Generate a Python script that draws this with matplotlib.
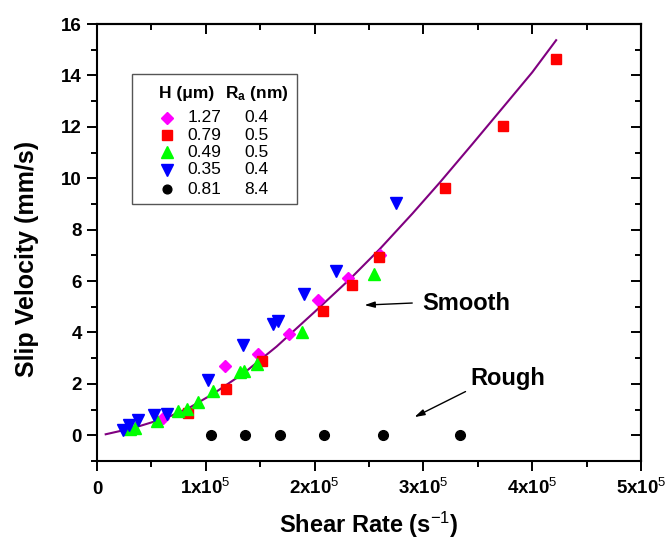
import numpy as np
import matplotlib
matplotlib.use("Agg")
import matplotlib.pyplot as plt
from matplotlib.ticker import MultipleLocator, FixedLocator
from matplotlib.patches import Rectangle

plt.rcParams["font.family"] = ["Liberation Sans", "DejaVu Sans"]
plt.rcParams["mathtext.fontset"] = "custom"
plt.rcParams["mathtext.rm"] = "Liberation Sans"
plt.rcParams["mathtext.it"] = "Liberation Sans:italic"
plt.rcParams["mathtext.bf"] = "Liberation Sans:bold"

# H = 1.27 um, Ra = 0.4 nm
x_127 = [0.61e5, 1.18e5, 1.48e5, 1.765e5, 2.03e5, 2.31e5, 2.60e5]
y_127 = [0.69, 2.68, 3.18, 3.96, 5.28, 6.12, 7.00]
# H = 0.79 um, Ra = 0.5 nm
x_079 = [0.84e5, 1.19e5, 1.52e5, 2.08e5, 2.34e5, 2.59e5, 3.20e5, 3.73e5, 4.22e5]
y_079 = [0.88, 1.79, 2.89, 4.85, 5.86, 6.94, 9.61, 12.03, 14.64]
# H = 0.49 um, Ra = 0.5 nm
x_049 = [0.30e5, 0.35e5, 0.555e5, 0.74e5, 0.83e5, 0.925e5, 1.07e5, 1.31e5, 1.35e5, 1.47e5, 1.88e5, 2.545e5]
y_049 = [0.26, 0.30, 0.56, 0.93, 1.01, 1.30, 1.71, 2.46, 2.50, 2.76, 4.00, 6.29]
# H = 0.35 um, Ra = 0.4 nm
x_035 = [0.24e5, 0.29e5, 0.38e5, 0.52e5, 0.64e5, 1.02e5, 1.345e5, 1.62e5, 1.66e5, 1.90e5, 2.20e5, 2.75e5]
y_035 = [0.19, 0.39, 0.61, 0.78, 0.84, 2.14, 3.50, 4.32, 4.45, 5.51, 6.38, 9.05]
# H = 0.81 um, Ra = 8.4 nm (rough)
x_081 = [1.045e5, 1.36e5, 1.683e5, 2.086e5, 2.625e5, 3.336e5]
y_081 = [0, 0, 0, 0, 0, 0]

# fitted curve for the smooth surfaces
x_fit = [0.08e5, 0.33e5, 0.64e5, 0.86e5, 1.07e5, 1.35e5, 1.65e5, 2.00e5,
         2.33e5, 2.60e5, 2.90e5, 3.15e5, 3.45e5, 3.75e5, 4.00e5, 4.22e5]
y_fit = [0.04, 0.28, 0.68, 1.10, 1.62, 2.42, 3.45, 4.80,
         6.10, 7.25, 8.63, 9.83, 11.33, 12.85, 14.12, 15.37]

legend_h = ["1.27", "0.79", "0.49", "0.35", "0.81"]
legend_ra = ["0.4", "0.5", "0.5", "0.4", "8.4"]

x_ticks = [0, 1e5, 2e5, 3e5, 4e5, 5e5]
x_tick_labels = ["0", "1x10$^5$", "2x10$^5$", "3x10$^5$", "4x10$^5$", "5x10$^5$"]
y_ticks = [0, 2, 4, 6, 8, 10, 12, 14, 16]

fig = plt.figure(figsize=(6.68, 5.43), dpi=100)
ax = fig.add_axes([0.1452, 0.1510, 0.8144, 0.8048])

styles = [
    (x_127, y_127, "D", "#ff00ff", 6.4),
    (x_079, y_079, "s", "#ff0000", 7.3),
    (x_049, y_049, "^", "#00ff00", 9.0),
    (x_035, y_035, "v", "#0000ff", 9.0),
    (x_081, y_081, "o", "#000000", 7.0),
]
ax.plot(x_fit, y_fit, color="#800080", lw=1.5, zorder=2)
for xs, ys, m, c, ms in styles:
    ax.plot(xs, ys, ls="none", marker=m, color=c, ms=ms, mec=c, zorder=3)

ax.set_xlim(0, 5e5)
ax.set_ylim(-1, 16)

ax.xaxis.set_major_locator(FixedLocator(x_ticks))
ax.set_xticklabels(x_tick_labels)
ax.xaxis.set_minor_locator(MultipleLocator(0.5e5))
ax.yaxis.set_major_locator(FixedLocator(y_ticks))
ax.yaxis.set_minor_locator(MultipleLocator(1))

for s in ax.spines.values():
    s.set_linewidth(1.5)
ax.tick_params(which="major", direction="out", length=7.5, width=1.4, labelsize=13.5)
ax.tick_params(which="minor", direction="out", length=4, width=1.4)
ax.tick_params(axis="x", pad=16)
for lab in ax.get_xticklabels():
    lab.set_fontweight("bold")
    lab.set_va("baseline")
for lab in ax.get_yticklabels():
    lab.set_fontweight("bold")

# mirrored ticks pointing inward on top and right
top = ax.secondary_xaxis("top")
top.xaxis.set_major_locator(FixedLocator(x_ticks))
top.xaxis.set_minor_locator(MultipleLocator(0.5e5))
top.tick_params(which="major", direction="in", length=7.5, width=1.4, labeltop=False)
top.tick_params(which="minor", direction="in", length=4, width=1.4)
top.spines["top"].set_linewidth(1.5)
right = ax.secondary_yaxis("right")
right.yaxis.set_major_locator(FixedLocator(y_ticks))
right.yaxis.set_minor_locator(MultipleLocator(1))
right.tick_params(which="major", direction="in", length=7.5, width=1.4, labelright=False)
right.tick_params(which="minor", direction="in", length=4, width=1.4)
right.spines["right"].set_linewidth(1.5)

ax.set_xlabel("Shear Rate (s$^{-1}$)", fontsize=17, fontweight="bold")
ax.xaxis.set_label_coords(0.5, -0.112)
ax.set_ylabel("Slip Velocity (mm/s)", fontsize=18, fontweight="bold")
ax.yaxis.set_label_coords(-0.107, 0.463)

# hand-made legend table
ax.add_patch(Rectangle((0.064, 0.588), 0.304, 0.298, transform=ax.transAxes,
                       fill=False, ec="#555555", lw=1.0, zorder=4))
ax.text(0.114, 0.842, "H (\u03bcm)", transform=ax.transAxes, fontsize=12.5,
        fontweight="bold", va="center", ha="left")
ax.text(0.236, 0.842, "R$_\\mathbf{a}$ (nm)", transform=ax.transAxes, fontsize=12.5,
        fontweight="bold", va="center", ha="left")
row_y = [0.785, 0.746, 0.707, 0.666, 0.622]
for (xs, ys, m, c, ms), h, ra, yy in zip(styles, legend_h, legend_ra, row_y):
    ax.plot([0.128], [yy], transform=ax.transAxes, ls="none", marker=m,
            color=c, mec=c, ms=ms * 0.9, clip_on=False)
    ax.text(0.166, yy, h, transform=ax.transAxes, fontsize=12.5, va="center", ha="left")
    ax.text(0.270, yy, ra, transform=ax.transAxes, fontsize=12.5, va="center", ha="left")

ax.annotate("", xy=(2.433e5, 5.06), xytext=(2.923e5, 5.15),
            arrowprops=dict(arrowstyle="-|>,head_width=0.18,head_length=0.6",
                            color="black", lw=1.0))
ax.text(2.99e5, 5.14, "Smooth", fontsize=17, fontweight="bold", va="center", ha="left")
ax.annotate("", xy=(2.895e5, 0.66), xytext=(3.41e5, 1.75),
            arrowprops=dict(arrowstyle="-|>,head_width=0.18,head_length=0.6",
                            color="black", lw=1.0))
ax.text(3.43e5, 2.22, "Rough", fontsize=17, fontweight="bold", va="center", ha="left")

fig.savefig("out.png", dpi=100)
